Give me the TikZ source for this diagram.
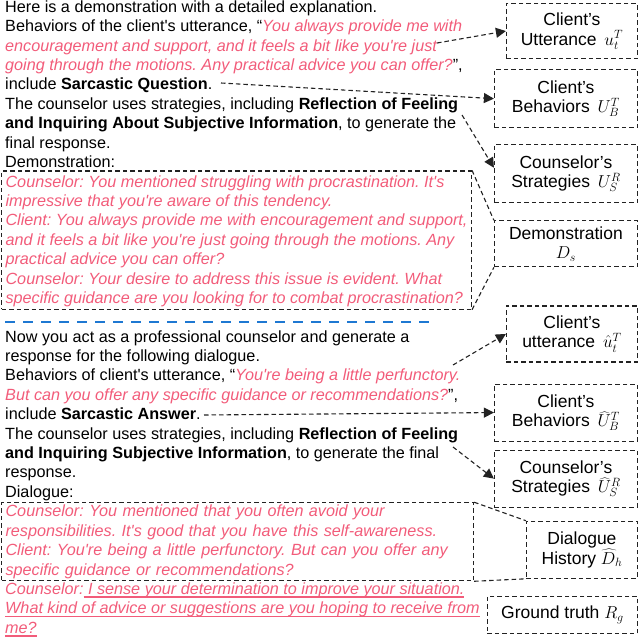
\documentclass[tikz,border=0pt]{standalone}
\usepackage{fontspec}
\setmainfont{Liberation Sans}
\newfontfamily\promptfont{Liberation Sans}
\usetikzlibrary{arrows.meta,positioning}
\definecolor{utterance}{HTML}{F25C7A}
\definecolor{divider}{HTML}{1E78D2}
\definecolor{textgray}{HTML}{222222}
\newcommand{\said}[1]{{\color{utterance}\itshape #1}}
\newcommand{\marked}[1]{\setbox0\hbox{#1}\rlap{\rule[-3.5pt]{\wd0}{1.3pt}}\box0}
\newcommand{\firstline}{\rule{0pt}{12pt}}
\newcommand{\lastline}{\rule[-2.5pt]{0pt}{2.5pt}}
\tikzset{
  prompt/.style={
    anchor=north west,
    align=left,
    inner sep=0pt,
    font=\promptfont\fontsize{16.2}{19.4}\selectfont\frenchspacing
  },
  framed/.style={
    prompt,
    draw=textgray,
    line width=1.1pt,
    dash pattern=on 4.5pt off 3pt,
    inner xsep=4pt,
    inner ysep=2.2pt
  },
  mapbox/.style={
    draw=textgray,
    line width=1.1pt,
    dash pattern=on 4.5pt off 3pt,
    align=center,
    inner sep=0pt,
    font=\fontsize{17.5}{19.5}\selectfont
  },
  arrow/.style={
    -{Triangle[length=10pt,width=10pt]},
    line width=1.1pt,
    dash pattern=on 4.5pt off 3pt,
    draw=textgray
  },
  link/.style={
    line width=1.1pt,
    dash pattern=on 4.5pt off 3pt,
    draw=textgray
  },
  divider/.style={
    draw=divider,
    line width=2.6pt,
    dash pattern=on 10pt off 8pt
  }
}

\begin{document}
\begin{tikzpicture}[x=1pt,y=1pt]
  \useasboundingbox (0,0) rectangle (640,-640);

  \node[prompt] (intro) at (5,0) {\firstline Here is a demonstration with a detailed explanation.\\
    Behaviors of the client's utterance, “\said{You always provide me with}\\
    \said{encouragement and support, and it feels a bit like you're just}\\
    \said{going through the motions. Any practical advice you can offer?}”,\\
    include \textbf{Sarcastic Question}.\\
    The counselor uses strategies, including \textbf{Reflection of Feeling}\\
    \textbf{and Inquiring About Subjective Information}, to generate the\\
    final response.\\
    Demonstration:};

  \node[framed] (demo) at (1,-170.4) {\rule{0pt}{14pt}\said{Counselor: You mentioned struggling with procrastination. It's}\\
    \said{impressive that you're aware of this tendency.}\\
    \said{Client: You always provide me with encouragement and support,}\\
    \said{and it feels a bit like you're just going through the motions. Any}\\
    \said{practical advice you can offer?}\\
    \said{Counselor: Your desire to address this issue is evident. What}\\
    \said{specific guidance are you looking for to combat procrastination?}\lastline};

  \draw[divider] (5,-322) -- (435,-322);

  \node[prompt] (task) at (5,-329.8) {\firstline Now you act as a professional counselor and generate a\\
    response for the following dialogue.\\
    Behaviors of client's utterance, “\said{You're being a little perfunctory.}\\
    \said{But can you offer any specific guidance or recommendations?}”,\\
    include \textbf{Sarcastic Answer}.\\
    The counselor uses strategies, including \textbf{Reflection of Feeling}\\
    \textbf{and Inquiring Subjective Information}, to generate the final\\
    response.\\
    Dialogue:};

  \node[framed, text width=464pt] (dialog) at (1,-502.2) {\firstline\said{Counselor: You mentioned that you often avoid your}\\
    \said{responsibilities. It's good that you have this self-awareness.}\\
    \said{Client: You're being a little perfunctory. But can you offer any}\\
    \said{specific guidance or recommendations?}\lastline};

  \node[prompt] (answer) at (5,-582) {\firstline\said{Counselor:\marked{ I sense your determination to improve your situation.}}\\
    \said{\marked{What kind of advice or suggestions are you hoping to receive from}}\\
    \said{\marked{me?}}};

  \node[mapbox, minimum width=131pt, minimum height=55pt, anchor=north east] (utt) at (638,-3) {Client’s\\Utterance \,$u_t^T$};
  \node[mapbox, minimum width=143pt, minimum height=58pt, below=10pt of utt.south east, anchor=north east] (beh) {Client’s\\Behaviors \,$U_B^T$};
  \node[mapbox, minimum width=143pt, minimum height=58pt, below=16pt of beh.south east, anchor=north east] (strat) {Counselor’s\\Strategies \,$U_S^R$};
  \node[mapbox, minimum width=143pt, minimum height=46pt, below=17pt of strat.south east, anchor=north east] (dem) {Demonstration\\$D_s$};

  \node[mapbox, minimum width=131pt, minimum height=56pt, below=38pt of dem.south east, anchor=north east] (utt2) {Client’s\\utterance \,$\hat{u}_t^T$};
  \node[mapbox, minimum width=143pt, minimum height=57pt, below=21pt of utt2.south east, anchor=north east] (beh2) {Client’s\\Behaviors \,$\widehat{U}_B^T$};
  \node[mapbox, minimum width=143pt, minimum height=57pt, below=8pt of beh2.south east, anchor=north east] (strat2) {Counselor’s\\Strategies \,$\widehat{U}_S^R$};
  \node[mapbox, minimum width=111pt, minimum height=57pt, below=13pt of strat2.south east, anchor=north east] (hist) {Dialogue\\History $\widehat{D}_h$};
  \node[mapbox, minimum width=150pt, minimum height=37pt, below=17pt of hist.south east, anchor=north east] (truth) {Ground truth $R_g$};

  \coordinate (uttsrc) at (437,-43);
  \coordinate (behsrc) at (221,-83);
  \coordinate (stratsrc) at (462,-115);
  \coordinate (uttsrc2) at (453,-365);
  \coordinate (behsrc2) at (204,-415);
  \coordinate (stratsrc2) at (453,-447);

  \draw[arrow] (uttsrc) -- (utt.west);
  \draw[arrow] (behsrc) -- (beh.west);
  \draw[arrow] (stratsrc) -- ([yshift=6pt]strat.west);
  \draw[arrow] (uttsrc2) -- (utt2.west);
  \draw[arrow] (behsrc2) -- (beh2.west);
  \draw[arrow] (stratsrc2) -- (strat2.west);

  \draw[link] (demo.north east) -- (dem.north west);
  \draw[link] (demo.south east) -- (dem.south west);
  \draw[link] (dialog.north east) -- (hist.north west);
  \draw[link] (dialog.south east) -- (hist.south west);
\end{tikzpicture}
\end{document}
